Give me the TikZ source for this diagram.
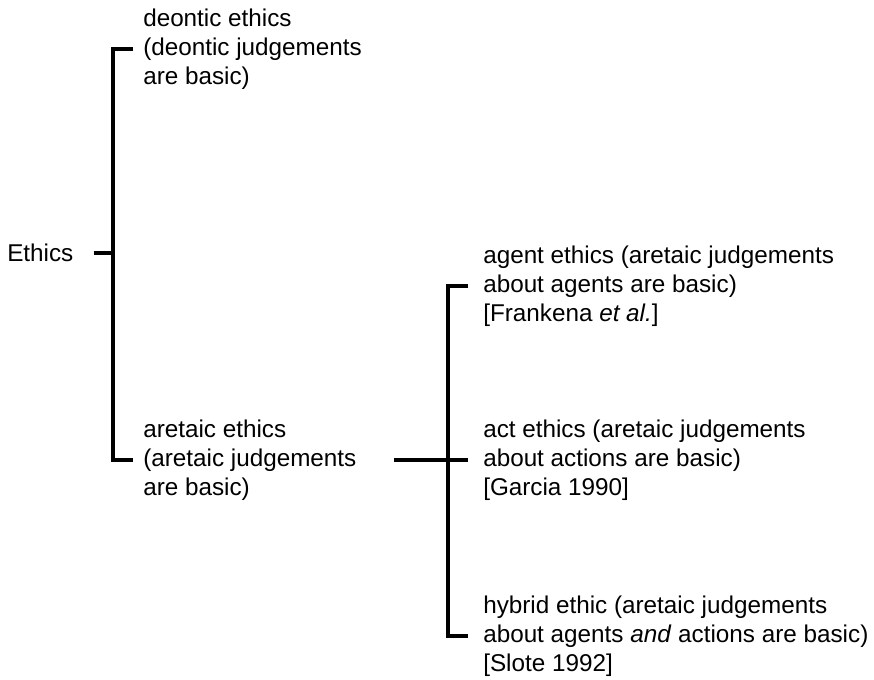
\documentclass[tikz,border=0pt]{standalone}
\usepackage{fontspec}
\setmainfont{Liberation Sans}
\tikzset{
  txt/.style={anchor=west,inner sep=0pt,align=left,font=\fontsize{18.2}{21.8}\selectfont},
  brace/.style={line width=2.3pt,line cap=butt}
}
\begin{document}
\begin{tikzpicture}[x=0.75pt,y=0.75pt,yscale=-1,xscale=1]
\useasboundingbox (0,0) rectangle (874,679);

% Text Node
\node[txt] (ethics) at (7,253) {Ethics};
% Text Node
\node[txt] (deontic) at (143,49) {deontic ethics\\(deontic judgements\\are basic)};
% Text Node
\node[txt] (aretaic) at (143,460) {aretaic ethics\\(aretaic judgements\\are basic)};
% Text Node
\node[txt] (agent) at (483,286) {agent ethics (aretaic judgements\\about agents are basic)\\{}[Frankena \textit{et al.}]};
% Text Node
\node[txt] (act) at (483,460) {act ethics (aretaic judgements\\about actions are basic)\\{}[Garcia 1990]};
% Text Node
\node[txt] (hybrid) at (483,636) {hybrid ethic (aretaic judgements\\about agents \textit{and} actions are basic)\\{}[Slote 1992]};

\coordinate (ljoin) at (113,253);
\coordinate (rjoin) at (448,460);

%Straight Lines
\draw[brace] ([xshift=15pt]ethics.east) -- (ljoin);
\draw[brace] ([xshift=-7.5pt]deontic.west) -| (ljoin) |- ([xshift=-7.5pt]aretaic.west);
%Straight Lines
\draw[brace] ([xshift=28pt]aretaic.east) -- (rjoin) -- ([xshift=-11pt]act.west);
\draw[brace] ([xshift=-11pt]agent.west) -| (rjoin) |- ([xshift=-11pt]hybrid.west);
\end{tikzpicture}
\end{document}
